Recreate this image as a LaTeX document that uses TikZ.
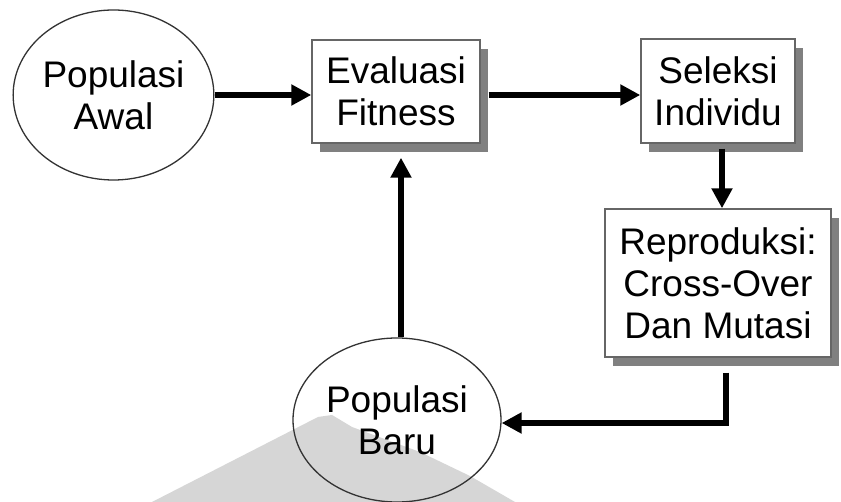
\documentclass[tikz,border=0pt]{standalone}
\usepackage{fontspec}
\setmainfont{Liberation Sans}
\usetikzlibrary{arrows.meta,shadows,shapes.geometric}

\definecolor{boxline}{HTML}{666666}
\definecolor{shadowgray}{HTML}{808080}
\definecolor{ovalline}{HTML}{333333}
\definecolor{markgray}{HTML}{D6D6D6}

\tikzset{
  label text/.style={font=\fontsize{37}{42}\selectfont, align=center, text=black},
  stepbox/.style={label text, draw=boxline, line width=1.4pt, fill=white,
    inner sep=0pt, rectangle,
    drop shadow={shadow xshift=8pt, shadow yshift=-9pt, fill=shadowgray, opacity=1}},
  oval/.style={label text, ellipse, draw=ovalline, line width=1.3pt, inner sep=0pt},
  conn/.style={line width=5.5pt, draw=black,
    -{Triangle[length=20pt,width=20pt]}},
}

\begin{document}
\begin{tikzpicture}[x=1pt,y=-1pt]
  \useasboundingbox (0,0) rectangle (841,502);
  \fill[white] (0,0) rectangle (841,502);

  % faint background mark
  \fill[markgray] (152,502) -- (318,417) -- (332,415) -- (352,427)
    -- (420,452) -- (470,476) -- (515,502) -- cycle;

  % nodes
  \node[oval, minimum width=199pt, minimum height=170pt] (awal) at (113.5,95)
    {Populasi\\Awal};
  \node[stepbox, minimum width=168pt, minimum height=103pt] (eval) at (396,91.5)
    {Evaluasi\\Fitness};
  \node[stepbox, minimum width=154pt, minimum height=104pt] (sel) at (718,91)
    {Seleksi\\Individu};
  \node[stepbox, minimum width=226pt, minimum height=148pt] (repro) at (718,283)
    {Reproduksi:\\Cross-Over\\Dan Mutasi};
  \node[oval, minimum width=208pt, minimum height=164pt] (baru) at (397,420)
    {Populasi\\Baru};

  % connectors
  \draw[conn] (awal.east) -- (awal.east -| eval.west);
  \draw[conn] ([xshift=8pt]eval.east |- awal.east) -- (sel.west |- awal.east);
  \draw[conn] ([xshift=4pt,yshift=-5pt]sel.south) -- ([xshift=4pt]repro.north);
  \draw[conn] ([xshift=8pt,yshift=-15pt]repro.south) |- ([yshift=-3pt]baru.east);
  \draw[conn, shorten >=14pt] ([xshift=4pt]baru.north)
    -- ([xshift=4pt]baru.north |- eval.south);
\end{tikzpicture}
\end{document}
